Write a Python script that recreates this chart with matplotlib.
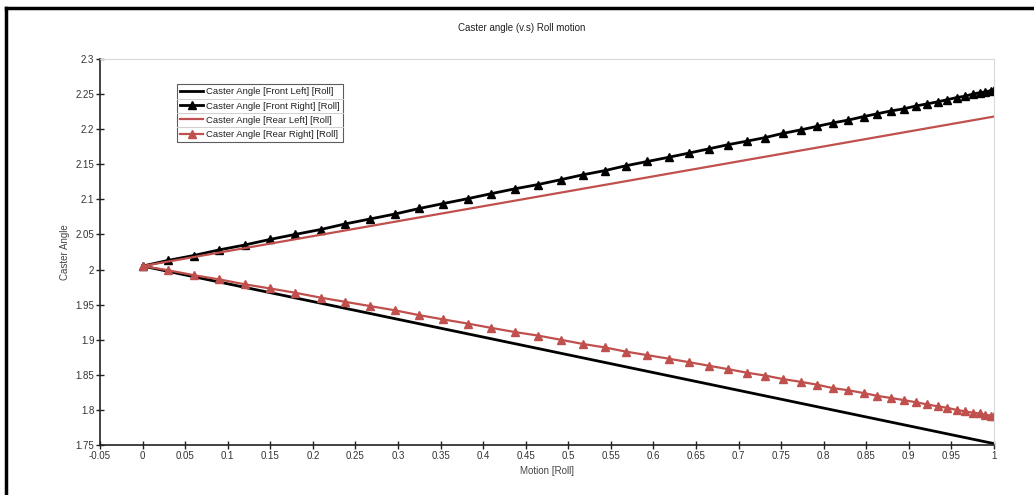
import matplotlib
matplotlib.use("Agg")
import matplotlib.pyplot as plt
from matplotlib.lines import Line2D

plt.rcParams['font.family'] = ['Liberation Sans', 'DejaVu Sans']

# roll motion samples (marker positions)
motion = [0.000, 0.030, 0.060, 0.090, 0.120, 0.150, 0.179, 0.209, 0.238, 0.267,
          0.296, 0.325, 0.353, 0.382, 0.409, 0.437, 0.464, 0.491, 0.517, 0.543,
          0.568, 0.593, 0.618, 0.642, 0.665, 0.688, 0.710, 0.731, 0.752, 0.773,
          0.792, 0.811, 0.829, 0.847, 0.863, 0.879, 0.894, 0.908, 0.921, 0.934,
          0.945, 0.956, 0.966, 0.975, 0.983, 0.990, 0.996, 1.000]

front_right = [2.005, 2.013, 2.020, 2.028, 2.035, 2.043, 2.050, 2.057, 2.065, 2.072,
               2.079, 2.087, 2.094, 2.101, 2.108, 2.115, 2.121, 2.128, 2.135, 2.141,
               2.148, 2.154, 2.160, 2.166, 2.172, 2.178, 2.183, 2.188, 2.194, 2.199,
               2.204, 2.209, 2.213, 2.218, 2.222, 2.226, 2.229, 2.233, 2.236, 2.239,
               2.242, 2.245, 2.247, 2.250, 2.252, 2.253, 2.255, 2.256]

rear_right = [2.005, 1.999, 1.992, 1.986, 1.979, 1.973, 1.967, 1.960, 1.954, 1.948,
              1.942, 1.935, 1.929, 1.923, 1.917, 1.911, 1.906, 1.900, 1.894, 1.889,
              1.883, 1.878, 1.873, 1.868, 1.863, 1.858, 1.853, 1.849, 1.844, 1.840,
              1.836, 1.831, 1.828, 1.824, 1.820, 1.817, 1.814, 1.811, 1.808, 1.805,
              1.803, 1.800, 1.798, 1.796, 1.795, 1.793, 1.792, 1.791]

# plain lines only need their end points
motion_ends = [0.0, 1.0]
front_left = [2.005, 1.752]
rear_left = [2.005, 2.218]

x_ticks = [-0.05, 0, 0.05, 0.1, 0.15, 0.2, 0.25, 0.3, 0.35, 0.4, 0.45, 0.5,
           0.55, 0.6, 0.65, 0.7, 0.75, 0.8, 0.85, 0.9, 0.95, 1]
y_ticks = [1.75, 1.8, 1.85, 1.9, 1.95, 2, 2.05, 2.1, 2.15, 2.2, 2.25, 2.3]

RED = '#c0504d'
TXT = '#333333'

fig = plt.figure(figsize=(10.34, 4.95), dpi=100)
ax = fig.add_axes([0.0967, 0.1010, 0.8646, 0.7798])

ax.plot(motion_ends, front_left, color='black', lw=2, label='Caster Angle [Front Left] [Roll]')
ax.plot(motion, front_right, color='black', lw=2, marker='^', ms=5.5,
        label='Caster Angle [Front Right] [Roll]')
ax.plot(motion_ends, rear_left, color=RED, lw=1.6, label='Caster Angle [Rear Left] [Roll]')
ax.plot(motion, rear_right, color=RED, lw=1.6, marker='^', ms=5.5,
        label='Caster Angle [Rear Right] [Roll]')

ax.set_xlim(-0.05, 1.0)
ax.set_ylim(1.75, 2.3)
ax.set_xticks(x_ticks)
ax.set_xticklabels(['%g' % t for t in x_ticks])
ax.set_yticks(y_ticks)
ax.set_yticklabels(['%g' % t for t in y_ticks])
ax.tick_params(direction='inout', length=6, width=1, colors='#222222',
               labelsize=7, labelcolor=TXT, pad=1)

for s in ('top', 'right'):
    ax.spines[s].set_color('#d9d9d9')
for s in ('left', 'bottom'):
    ax.spines[s].set_color('#222222')
    ax.spines[s].set_linewidth(1.2)

ax.set_xlabel('Motion [Roll]', fontsize=7, color='#444444', labelpad=4)
ax.set_ylabel('Caster Angle', fontsize=7, color='#444444', labelpad=4)
fig.text(0.505, 0.943, 'Caster angle (v.s) Roll motion', fontsize=7,
         color='#222222', ha='center', va='center')

leg = ax.legend(loc='upper left', bbox_to_anchor=(0.086, 0.935), fontsize=6.8,
                frameon=True, fancybox=False, borderpad=0.35, labelspacing=0.55,
                handlelength=2.4, handletextpad=0.3, borderaxespad=0)
leg.get_frame().set_edgecolor('#333333')
leg.get_frame().set_linewidth(0.8)
for t in leg.get_texts():
    t.set_color('#222222')

# thin separators between legend rows
fig.canvas.draw()
inv = fig.transFigure.inverted()
box = inv.transform_bbox(leg.get_frame().get_window_extent())
rows = [inv.transform_bbox(t.get_window_extent()) for t in leg.get_texts()]
for upper, lower in zip(rows[:-1], rows[1:]):
    yy = (upper.y0 + lower.y1) / 2
    fig.add_artist(Line2D([box.x0, box.x1], [yy, yy], color='#d0d0d0', lw=0.7))

# outer frame of the chart window
fig.add_artist(Line2D([0.006, 0.006], [0.0, 0.984], color='black', lw=2.5))
fig.add_artist(Line2D([0.006, 1.0], [0.984, 0.984], color='black', lw=2.5))

fig.savefig('out.png', dpi=100)
